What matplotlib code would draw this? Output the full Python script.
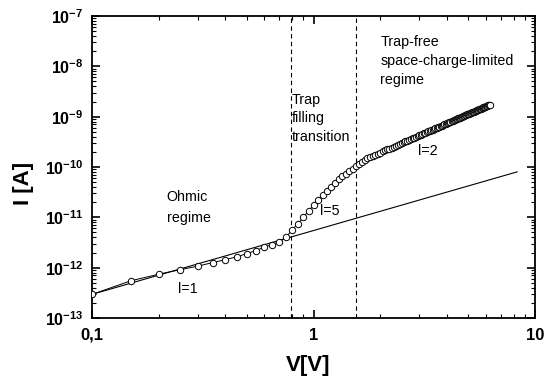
import matplotlib
matplotlib.use('Agg')
import matplotlib.pyplot as plt
import numpy as np
from matplotlib.ticker import LogLocator, FixedLocator, NullFormatter

plt.rcParams['font.family'] = ['Liberation Sans', 'DejaVu Sans']
plt.rcParams['mathtext.fontset'] = 'custom'
plt.rcParams['mathtext.rm'] = 'Liberation Sans:bold'
plt.rcParams['mathtext.bf'] = 'Liberation Sans:bold'

# measured I-V points (V in volts, log10 of I in amperes)
voltage = [
    0.10, 0.15, 0.20, 0.25, 0.30, 0.35, 0.40, 0.45, 0.50, 0.55,
    0.60, 0.65, 0.70, 0.75, 0.80, 0.85, 0.90, 0.95, 1.00, 1.05,
    1.10, 1.15, 1.20, 1.25, 1.30, 1.35, 1.40, 1.45, 1.50, 1.55,
    1.60, 1.65, 1.70, 1.75, 1.80, 1.85, 1.90, 1.95, 2.00, 2.05,
    2.10, 2.15, 2.20, 2.25, 2.30, 2.35, 2.40, 2.45, 2.50, 2.55,
    2.60, 2.65, 2.70, 2.75, 2.80, 2.85, 2.90, 2.95, 3.00, 3.05,
    3.10, 3.15, 3.20, 3.25, 3.30, 3.35, 3.40, 3.45, 3.50, 3.55,
    3.60, 3.65, 3.70, 3.75, 3.80, 3.85, 3.90, 3.95, 4.00, 4.05,
    4.10, 4.15, 4.20, 4.25, 4.30, 4.35, 4.40, 4.45, 4.50, 4.55,
    4.60, 4.65, 4.70, 4.75, 4.80, 4.85, 4.90, 4.95, 5.00, 5.05,
    5.10, 5.15, 5.20, 5.25, 5.30, 5.35, 5.40, 5.45, 5.50, 5.55,
    5.60, 5.65, 5.70, 5.75, 5.80, 5.85, 5.90, 5.95, 6.00, 6.05,
    6.10, 6.15, 6.20, 6.25,
]
log_current = [
    -12.53, -12.26, -12.13, -12.04, -11.97, -11.90, -11.84, -11.785, -11.72, -11.66,
    -11.59, -11.54, -11.49, -11.40, -11.25, -11.13, -11.00, -10.87, -10.76, -10.65,
    -10.56, -10.47, -10.39, -10.31, -10.24, -10.18, -10.13, -10.08, -10.03, -9.98,
    -9.94, -9.90, -9.865, -9.83, -9.80, -9.777, -9.755, -9.733, -9.712, -9.691,
    -9.671, -9.652, -9.633, -9.614, -9.596, -9.578, -9.560, -9.543, -9.526, -9.510,
    -9.493, -9.477, -9.462, -9.447, -9.431, -9.417, -9.402, -9.388, -9.374, -9.360,
    -9.347, -9.333, -9.320, -9.307, -9.294, -9.282, -9.270, -9.257, -9.245, -9.234,
    -9.222, -9.210, -9.199, -9.188, -9.177, -9.166, -9.155, -9.145, -9.134, -9.124,
    -9.113, -9.103, -9.093, -9.083, -9.074, -9.064, -9.054, -9.045, -9.036, -9.027,
    -9.017, -9.008, -8.999, -8.991, -8.982, -8.973, -8.965, -8.956, -8.948, -8.940,
    -8.931, -8.923, -8.915, -8.907, -8.899, -8.891, -8.884, -8.876, -8.868, -8.861,
    -8.853, -8.846, -8.839, -8.831, -8.824, -8.817, -8.810, -8.803, -8.796, -8.789,
    -8.782, -8.775, -8.769, -8.762,
]

# ohmic fit line (end points)
fit_v = [0.1, 8.3]
fit_i = [2.95e-13, 8.0e-11]

# regime boundaries
boundaries = [0.79, 1.55]

x_ticks = [0.1, 1, 10]
x_ticklabels = ['0,1', '1', '10']
y_exponents = [-13, -12, -11, -10, -9, -8, -7]

current = 10.0 ** np.array(log_current)

fig = plt.figure(figsize=(5.59, 3.85), dpi=100)
ax = fig.add_axes([92 / 559, 1 - 318 / 385, 443 / 559, 302 / 385])

ax.plot(voltage, current, '-', color='black', linewidth=0.7, zorder=3)
ax.plot(voltage, current, 'o', markersize=4.6, markerfacecolor='white',
        markeredgecolor='black', markeredgewidth=0.7, zorder=4)
ax.plot(fit_v, fit_i, '-', color='black', linewidth=0.8, zorder=2)

for b in boundaries:
    ax.axvline(b, color='black', linestyle=(0, (4, 3)), linewidth=0.8, zorder=1)

ax.set_xscale('log')
ax.set_yscale('log')
ax.set_xlim(0.1, 10)
ax.set_ylim(1e-13, 1e-7)

ax.xaxis.set_major_locator(FixedLocator(x_ticks))
ax.set_xticklabels(x_ticklabels, fontsize=12, fontweight='bold')
ax.xaxis.set_minor_locator(LogLocator(base=10, subs=np.arange(2, 10)))
ax.xaxis.set_minor_formatter(NullFormatter())

ax.yaxis.set_major_locator(FixedLocator([10.0 ** e for e in y_exponents]))
ax.set_yticklabels([r'$\mathbf{10^{%d}}$' % e for e in y_exponents], fontsize=11.5)
ax.yaxis.set_minor_locator(LogLocator(base=10, subs=np.arange(2, 10)))
ax.yaxis.set_minor_formatter(NullFormatter())

ax.tick_params(which='major', direction='in', length=6, width=1.2,
               top=True, right=True, pad=6)
ax.tick_params(which='minor', direction='in', length=3, width=0.8,
               top=True, right=True)
ax.tick_params(axis='x', which='major', pad=7)
for s in ax.spines.values():
    s.set_linewidth(1.3)

# region annotations
fs = 10.3
ax.text(0.217, 2.56e-11, 'Ohmic', fontsize=fs, ha='left', va='center')
ax.text(0.217, 9.6e-12, 'regime', fontsize=fs, ha='left', va='center')
ax.text(0.797, 2.14e-9, 'Trap', fontsize=fs, ha='left', va='center')
ax.text(0.797, 9.4e-10, 'filling', fontsize=fs, ha='left', va='center')
ax.text(0.797, 3.93e-10, 'transition', fontsize=fs, ha='left', va='center')
ax.text(2.0, 3.04e-8, 'Trap-free', fontsize=fs, ha='left', va='center')
ax.text(2.0, 1.27e-8, 'space-charge-limited', fontsize=fs, ha='left', va='center')
ax.text(2.0, 5.35e-9, 'regime', fontsize=fs, ha='left', va='center')
ax.text(0.271, 3.74e-13, 'l=1', fontsize=fs, ha='center', va='center')
ax.text(1.187, 1.33e-11, 'l=5', fontsize=fs, ha='center', va='center')
ax.text(3.29, 2.07e-10, 'l=2', fontsize=fs, ha='center', va='center')

fig.text(24 / 559, 1 - 183 / 385, 'I [A]', rotation=90, fontsize=16,
         fontweight='bold', ha='center', va='center')
fig.text(308 / 559, 1 - 366 / 385, 'V[V]', fontsize=16, fontweight='bold',
         ha='center', va='center')

fig.savefig('out.png', dpi=100)
